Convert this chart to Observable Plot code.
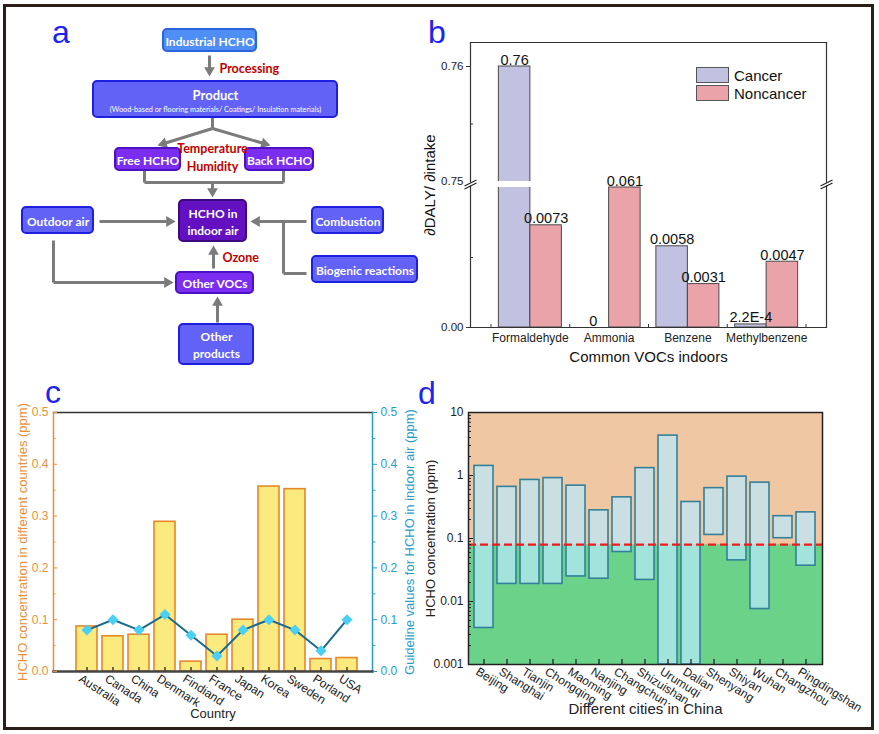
<!DOCTYPE html>
<html>
<head>
<meta charset="utf-8">
<script src="https://cdn.jsdelivr.net/npm/d3@7"></script>
<script src="https://cdn.jsdelivr.net/npm/@observablehq/plot@0.6"></script>
<style>
html,body{margin:0;padding:0;background:#fff;}
#fig{position:relative;width:879px;height:734px;overflow:hidden;background:#fff;}
.panel{position:absolute;}
.panel svg{overflow:visible;background:transparent;}
.letter{position:absolute;font-family:"Liberation Sans",Arial,sans-serif;font-size:32px;line-height:32px;color:#1d24ee;}
#border{position:absolute;left:3px;top:4px;width:871px;height:726px;box-sizing:border-box;border:3px solid #2b1d17;pointer-events:none;}
.legend{position:absolute;font-family:"Liberation Sans",Arial,sans-serif;font-size:15px;color:#111;}
.legend .row{display:flex;align-items:center;height:18px;}
.legend .sw{width:33px;height:16px;border:1px solid #555;box-sizing:border-box;margin-right:5px;}
</style>
</head>
<body>
<div id="fig">
  <div class="panel" id="pa" style="left:0;top:0"></div>
  <div class="panel" id="pb" style="left:420px;top:20px"></div>
  <div class="panel" id="pc" style="left:0;top:380px"></div>
  <div class="panel" id="pd" style="left:420px;top:380px"></div>
  <div class="letter" style="left:52px;top:16px">a</div>
  <div class="letter" style="left:428px;top:16px">b</div>
  <div class="letter" style="left:45px;top:376px">c</div>
  <div class="letter" style="left:418px;top:377px">d</div>
  <div class="legend" id="legb" style="left:696px;top:66px"></div>
  <div id="border"></div>
</div>
<script>
// ---------------- DATA ----------------
// Panel a (flow chart)
const flowLabels = ["Industrial HCHO", "Product", "Free HCHO", "Back HCHO", "HCHO in\nindoor air",
  "Outdoor air", "Combustion", "Biogenic reactions", "Other VOCs", "Other\nproducts"];
const productNote = "(Wood-based or flooring materials/ Coatings/ Insulation materials)";
const flowFactors = ["Processing", "Temperature", "Humidity", "Ozone"];

// Panel b
const vocs = ["Formaldehyde", "Ammonia", "Benzene", "Methylbenzene"];
const bSeries = ["Cancer", "Noncancer"];
const cancerVals = [0.76, 0, 0.0058, 0.00022];
const noncancerVals = [0.0073, 0.061, 0.0031, 0.0047];
const cancerLabels = ["0.76", "0", "0.0058", "2.2E-4"];
const noncancerLabels = ["0.0073", "0.061", "0.0031", "0.0047"];
const bTickVals = [0, 0.75, 0.76];
const bTickLabels = ["0.00", "0.75", "0.76"];

// Panel c
const countries = ["Australia", "Canada", "China", "Denmark", "Findiand", "France", "Japan", "Korea", "Sweden", "Porland", "USA"];
const countryHCHO = [0.087, 0.068, 0.071, 0.289, 0.019, 0.071, 0.100, 0.357, 0.352, 0.024, 0.026];
const guideline = [0.08, 0.10, 0.08, 0.11, 0.07, 0.03, 0.08, 0.10, 0.08, 0.04, 0.10];
const cTicks = [0, 0.1, 0.2, 0.3, 0.4, 0.5];

// Panel d
const cities = ["Beijing", "Shanghai", "Tianjin", "Chongqing", "Maoming", "Nanjing", "Changchun", "Shizuishan",
  "Urumuqi", "Dalian", "Shenyang", "Shiyan", "Wuhan", "Changzhou", "Pingdingshan"];
const cityMax = [1.42, 0.66, 0.85, 0.91, 0.69, 0.28, 0.45, 1.31, 4.3, 0.38, 0.63, 0.96, 0.77, 0.226, 0.26];
const cityMin = [0.0038, 0.019, 0.019, 0.019, 0.025, 0.023, 0.061, 0.022, 0.001, 0.001, 0.114, 0.045, 0.0076, 0.101, 0.037];
const hchoStandard = 0.08;
const dTicks = [0.001, 0.01, 0.1, 1, 10];

// ---------------- LAYOUT / STYLE ----------------
const FONT = "'Liberation Sans', Arial, sans-serif";
const FLOWFONT = "Lato, 'Open Sans', sans-serif";
const kindStyle = {
  source: {fill: "#4f8ef5", stroke: "#2c62dc"},
  blue: {fill: "#6262f7", stroke: "#1f1fe0"},
  purple: {fill: "#7b2ef0", stroke: "#4e10c4"},
  dark: {fill: "#6310c0", stroke: "#3c0a7c"}
};
const boxLayout = [
  [163, 29, 256, 51, "source"], [93, 81, 337, 117, "blue"], [115, 148, 180, 170, "purple"],
  [245, 148, 313, 170, "purple"], [179, 200, 246, 241, "dark"], [22, 207, 93, 233, "blue"],
  [312, 207, 383, 233, "blue"], [312, 256, 417, 282, "blue"], [176, 272, 253, 293, "purple"],
  [179, 324, 253, 364, "blue"]
];
const flowBoxes = flowLabels.map((label, i) => {
  const [x1, y1, x2, y2, kind] = boxLayout[i];
  return {label, x1, y1, x2, y2, kind, main: i === 1};
});
const flowLines = [
  [209, 55, 209, 76, 1], [212, 117, 212, 128, 0], [212, 128, 157, 145, 1], [212, 128, 270, 145, 1],
  [144, 170, 144, 182, 0], [144, 182, 283, 182, 0], [283, 182, 283, 170, 0], [212, 182, 212, 197, 1],
  [99, 221, 175, 221, 1], [306, 221, 250, 221, 1], [306, 273, 283, 273, 0], [283, 273, 283, 221, 0],
  [53, 240, 53, 282, 0], [53, 282, 173, 282, 1], [213, 268, 213, 245, 1], [217, 322, 217, 296, 1]
].map(([x1, y1, x2, y2, a]) => {
  const L = Math.hypot(x2 - x1, y2 - y1), ux = (x2 - x1) / L, uy = (y2 - y1) / L;
  const back = a ? 6 : 0;
  return {x1, y1, x2: x2 - back * ux, y2: y2 - back * uy, a,
    hx: x2 - 6.2 * ux, hy: y2 - 6.2 * uy, rot: Math.atan2(ux, -uy) * 180 / Math.PI};
});
const factorLayout = [[219, 68, "start"], [212, 148, "middle"], [212, 166, "middle"], [222, 257, "start"]];
const factors = flowFactors.map((t, i) => ({t, x: factorLayout[i][0], y: factorLayout[i][1], anchor: factorLayout[i][2]}));

// ---------------- PANEL A ----------------
const GRAY = "#7b7b7b";
const factorStyle = {fill: "#c00000", fontWeight: "bold", fontSize: 12.5, fontFamily: FLOWFONT};
const pa = Plot.plot({
  width: 440, height: 380, margin: 0,
  x: {type: "identity", axis: null}, y: {type: "identity", axis: null},
  style: {background: "transparent", overflow: "visible"},
  marks: [
    Plot.link(flowLines, {x1: "x1", y1: "y1", x2: "x2", y2: "y2", stroke: GRAY, strokeWidth: 3}),
    Plot.dot(flowLines.filter(d => d.a), {x: "hx", y: "hy", rotate: "rot", symbol: "triangle", r: 4, fill: GRAY, stroke: "none"}),
    Plot.rect(flowBoxes, {x1: "x1", y1: "y1", x2: "x2", y2: "y2", rx: 4,
      fill: d => kindStyle[d.kind].fill, stroke: d => kindStyle[d.kind].stroke, strokeWidth: 2}),
    Plot.text(flowBoxes, {x: d => (d.x1 + d.x2) / 2, y: d => (d.y1 + d.y2) / 2 + (d.main ? -5 : 0), text: "label",
      fill: "white", fontWeight: "bold", fontSize: d => d.main ? 13 : 12, lineHeight: 1.4, fontFamily: FLOWFONT}),
    Plot.text([productNote], {x: () => 215, y: () => 109, text: d => d, fill: "white", fontSize: 7.3, fontFamily: FLOWFONT}),
    Plot.text(factors.filter(d => d.anchor === "start"), {x: "x", y: "y", text: "t", textAnchor: "start", ...factorStyle}),
    Plot.text(factors.filter(d => d.anchor === "middle"), {x: "x", y: "y", text: "t", textAnchor: "middle", ...factorStyle})
  ]
});
document.getElementById("pa").append(pa);

// ---------------- PANEL B ----------------
const XMIN = -0.76, XMAX = 3.76, PXX = (XMAX - XMIN) / 356;
function brk(v) {
  if (v <= 0.01) return v / 0.01 * 140;
  if (v < 0.75) return 140;
  return 146 + (v - 0.75) / 0.01 * 115;
}
const bColor = {Cancer: "#c1c1e1", Noncancer: "#eaa3a9"};
const bData = vocs.flatMap((c, i) => [
  {i, s: "Cancer", v: cancerVals[i], label: cancerLabels[i]},
  {i, s: "Noncancer", v: noncancerVals[i], label: noncancerLabels[i]}
]);
const bx1 = d => d.s === "Cancer" ? d.i - 0.4 : d.i;
const bx2 = d => d.s === "Cancer" ? d.i : d.i + 0.4;
const bLabelMap = new Map(bTickVals.map((v, i) => [brk(v), bTickLabels[i]]));
const breakMarks = [XMIN, XMAX].flatMap(x => [{x, y: 141.5}, {x, y: 144.5}]);
const pb = Plot.plot({
  width: 450, height: 355, marginLeft: 50, marginRight: 44, marginTop: 22, marginBottom: 48,
  x: {domain: [XMIN, XMAX], axis: null},
  y: {domain: [0, 285], axis: null},
  style: {fontFamily: FONT, background: "transparent", overflow: "visible", color: "#222"},
  marks: [
    Plot.rect(bData.filter(d => d.v > 0), {x1: bx1, x2: bx2, y1: 0, y2: d => brk(d.v), fill: d => bColor[d.s], stroke: "#4a4a4a", strokeWidth: 1}),
    Plot.rect(bData.filter(d => d.v > 0.75), {x1: d => bx1(d) - 2 * PXX, x2: d => bx2(d) + 2 * PXX, y1: 140, y2: 146, fill: "white"}),
    Plot.frame({anchor: "bottom", stroke: "#333", strokeWidth: 1.2}),
    Plot.frame({anchor: "top", stroke: "#333", strokeWidth: 1.2}),
    Plot.ruleX([XMIN, XMAX], {y1: 0, y2: 141.5, stroke: "#333", strokeWidth: 1.2}),
    Plot.ruleX([XMIN, XMAX], {y1: 144.5, y2: 285, stroke: "#333", strokeWidth: 1.2}),
    Plot.link(breakMarks, {x1: d => d.x - 6 * PXX, y1: d => d.y - 3, x2: d => d.x + 6 * PXX, y2: d => d.y + 3, stroke: "#222", strokeWidth: 1.2}),
    Plot.axisY([brk(0), brk(0.76)], {tickSize: 4, fill: "none", label: null, stroke: "#333"}),
    Plot.axisY([brk(0.005), brk(0.755)], {tickSize: -3, fill: "none", label: null, stroke: "#333"}),
    Plot.axisY(bTickVals.map(brk), {tickSize: 0, tickPadding: 7, tickFormat: d => bLabelMap.get(d), fontSize: 11.5, label: null}),
    Plot.axisX([-0.5, 0.5, 1.5, 2.5, 3.5], {tickSize: -3, fill: "none", label: null, stroke: "#333"}),
    Plot.axisX([0, 1, 2, 3], {tickSize: 0, tickPadding: 6, tickFormat: i => vocs[i], fontSize: 12, label: null}),
    Plot.text(bData, {x: d => (bx1(d) + bx2(d)) / 2, y: d => brk(d.v), text: "label", lineAnchor: "bottom", dy: -2, fontSize: 14.5, fill: "#111"}),
    Plot.text(["Common VOCs indoors"], {frameAnchor: "bottom", dy: 34, text: d => d, fontSize: 15, fill: "#111"}),
    Plot.text(["\u2202DALY/ \u2202intake"], {frameAnchor: "left", textAnchor: "middle", dx: -40, rotate: -90, text: d => d, fontSize: 15, fill: "#111"})
  ]
});
document.getElementById("pb").append(pb);
document.getElementById("legb").innerHTML = bSeries.map(s =>
  `<div class="row"><div class="sw" style="background:${bColor[s]}"></div>${s}</div>`).join("");

// ---------------- PANEL C ----------------
const ORANGE = "#e8913a", BLUE = "#2a9cc8";
const cData = countries.map((c, i) => ({c, v: countryHCHO[i], g: guideline[i]}));
const cMinor = cTicks.slice(0, -1).map(t => t + 0.05);
const pc = Plot.plot({
  width: 440, height: 345, marginLeft: 53, marginRight: 68, marginTop: 32, marginBottom: 54,
  x: {type: "band", domain: countries, paddingInner: 0.18, paddingOuter: 0.54, align: 0.61, axis: null},
  y: {domain: [0, 0.5], axis: null},
  style: {fontFamily: FONT, background: "transparent", overflow: "visible", color: "#222"},
  marks: [
    Plot.barY(cData, {x: "c", y: "v", fill: "#fbea7d", stroke: "#e5882b", strokeWidth: 1.6}),
    Plot.frame({anchor: "top", stroke: "#333", strokeWidth: 1.5}),
    Plot.frame({anchor: "left", stroke: ORANGE, strokeWidth: 1.5}),
    Plot.frame({anchor: "right", stroke: BLUE, strokeWidth: 1.5}),
    Plot.axisX({tickSize: -4, fill: "none", label: null, stroke: "#222", strokeWidth: 1.3}),
    Plot.frame({anchor: "bottom", stroke: "#444", strokeWidth: 2.5}),
    Plot.line(cData, {x: "c", y: "g", stroke: "#1c6a8b", strokeWidth: 2}),
    Plot.dot(cData, {x: "c", y: "g", symbol: "diamond2", r: 5, fill: "#4ccff4", stroke: "none"}),
    Plot.axisY(cTicks, {tickSize: -4, tickPadding: 9, tickFormat: d3.format(".1f"), color: ORANGE, fontSize: 12, label: null}),
    Plot.axisY(cMinor, {tickSize: -2.5, fill: "none", stroke: ORANGE, label: null}),
    Plot.axisY(cTicks, {anchor: "right", tickSize: 4, tickPadding: 4, tickFormat: d3.format(".1f"), color: BLUE, fontSize: 12, label: null}),
    Plot.axisY(cMinor, {anchor: "right", tickSize: 2.5, fill: "none", stroke: BLUE, label: null}),
    Plot.axisX({tickSize: 0, tickPadding: 6, tickRotate: 33, dx: -7, fontSize: 12, label: null, fill: "#222"}),
    Plot.text(["Country"], {frameAnchor: "bottom", dy: 46, text: d => d, fontSize: 13, fill: "#222"}),
    Plot.text(["HCHO concentration in different countries (ppm)"], {frameAnchor: "left", textAnchor: "middle", dx: -31, rotate: -90, text: d => d, fontSize: 13, fill: ORANGE}),
    Plot.text(["Guideline values for HCHO in indoor air (ppm)"], {frameAnchor: "right", textAnchor: "middle", dx: 37, rotate: -90, text: d => d, fontSize: 13, fill: BLUE})
  ]
});
document.getElementById("pc").append(pc);

// ---------------- PANEL D ----------------
const dData = cities.map((c, i) => ({c, lo: cityMin[i], hi: cityMax[i]}));
const dMinor = dTicks.slice(0, -1).flatMap(t => d3.range(2, 10).map(k => k * t));
const pd = Plot.plot({
  width: 450, height: 345, marginLeft: 48, marginRight: 48, marginTop: 32, marginBottom: 61,
  x: {type: "band", domain: cities, paddingInner: 0.17, paddingOuter: 0.095, axis: null},
  y: {type: "log", domain: [dTicks[0], dTicks[dTicks.length - 1]], axis: null},
  style: {fontFamily: FONT, background: "transparent", overflow: "visible", color: "#222"},
  marks: [
    Plot.rect([hchoStandard], {y1: d => d, y2: dTicks[dTicks.length - 1], fill: "#efc7a2"}),
    Plot.rect([hchoStandard], {y1: dTicks[0], y2: d => d, fill: "#6bd289"}),
    Plot.barY(dData, {x: "c", y1: "lo", y2: "hi", fill: "#b9eafd", fillOpacity: 0.7, stroke: "#34809a", strokeWidth: 1.6}),
    Plot.ruleY([hchoStandard], {stroke: "#ee1d1d", strokeWidth: 2.2, strokeDasharray: "8,4"}),
    Plot.frame({stroke: "#222", strokeWidth: 1.5}),
    Plot.axisY(dTicks, {tickSize: -5, tickPadding: 10, tickFormat: d => String(d), fontSize: 12, label: null, stroke: "#222"}),
    Plot.axisY(dMinor, {tickSize: -3, fill: "none", label: null, stroke: "#222"}),
    Plot.axisX({tickSize: -5, fill: "none", label: null, stroke: "#222", strokeWidth: 1.3}),
    Plot.axisX({tickSize: 0, tickPadding: 6, tickRotate: 32, dx: -7, fontSize: 12, label: null, fill: "#222"}),
    Plot.text(["Different cities in China"], {frameAnchor: "bottom", dy: 49, text: d => d, fontSize: 15, fill: "#222"}),
    Plot.text(["HCHO concentration (ppm)"], {frameAnchor: "left", textAnchor: "middle", dx: -38, rotate: -90, text: d => d, fontSize: 13, fill: "#222"})
  ]
});
document.getElementById("pd").append(pd);
</script>
</body>
</html>
